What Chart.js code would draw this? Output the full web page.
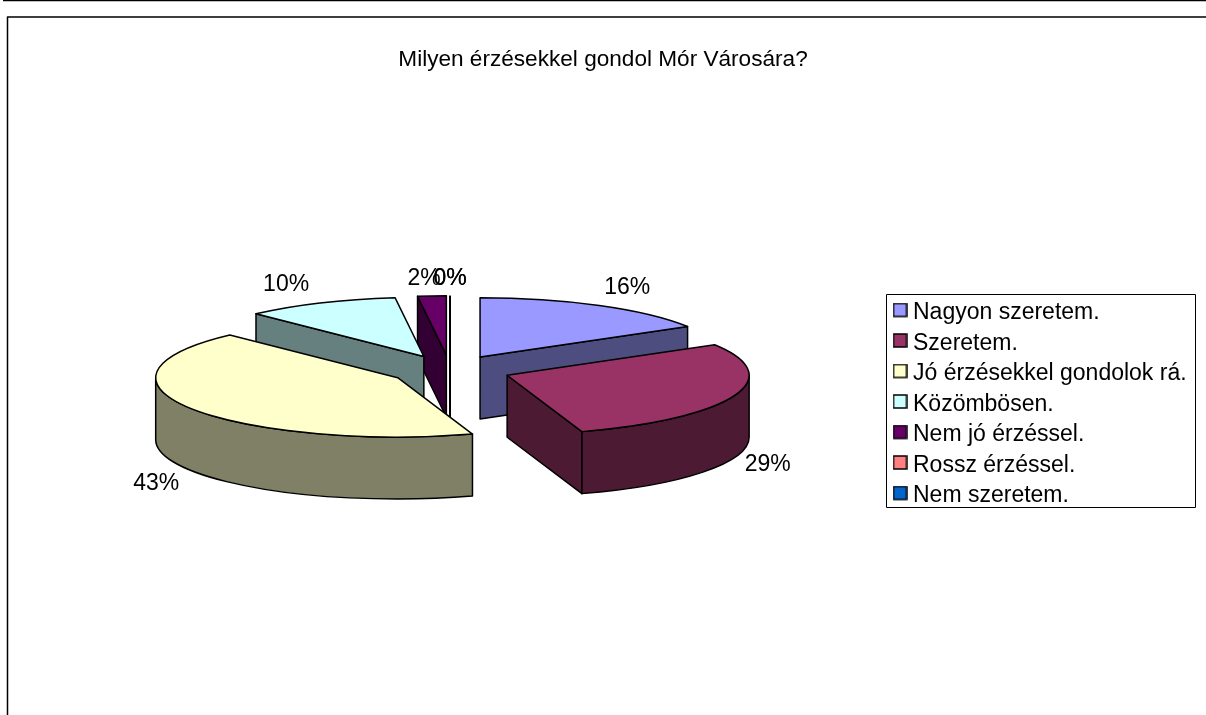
<!DOCTYPE html>
<html>
<head>
<meta charset="utf-8">
<title>Milyen érzésekkel gondol Mór Városára?</title>
<script src="https://cdn.jsdelivr.net/npm/chart.js@4"></script>
<style>
  html, body { margin: 0; padding: 0; background: #fff; overflow: hidden; }
  canvas { display: block; }
</style>
</head>
<body>
<canvas id="grafico" width="1206" height="715"></canvas>
<script>
const titulo = "Milyen érzésekkel gondol Mór Városára?";
const categorias = ["Nagyon szeretem.", "Szeretem.", "Jó érzésekkel gondolok rá.", "Közömbösen.", "Nem jó érzéssel.", "Rossz érzéssel.", "Nem szeretem."];
const valores = [16.4, 28.6, 42.8, 10.3, 1.9, 0, 0];
const colores = ["#9999FF", "#993366", "#FFFFCC", "#CCFFFF", "#660066", "#FF8080", "#0066CC"];
const coloresLado = ["#4D4D80", "#4D1A33", "#808066", "#668080", "#330033", "#804040", "#003366"];

const fuente = "'Liberation Sans', Arial, sans-serif";
const pieX = 450, pieY = 370; // centro de la tarta en pantalla
const aplastar = 0.245;       // inclinacion del 3D
const fondo = 62;             // grosor de la tarta
const separacion = 61;        // cuanto se separan las porciones

// vertice de la porcion en pantalla
function vertice(arc) {
  const mid = (arc.startAngle + arc.endAngle) / 2;
  return { x: pieX + Math.cos(mid) * separacion, y: pieY + Math.sin(mid) * separacion * aplastar };
}

function borde(ctx, ancho) {
  ctx.strokeStyle = "#000";
  ctx.lineWidth = ancho;
  ctx.lineJoin = "round";
  ctx.stroke();
}

// cara plana que se ve al cortar la porcion
function caraCorte(ctx, arc, angulo, color) {
  const v = vertice(arc), r = arc.outerRadius;
  const x = v.x + Math.cos(angulo) * r, y = v.y + Math.sin(angulo) * r * aplastar;
  ctx.beginPath();
  ctx.moveTo(v.x, v.y);
  ctx.lineTo(x, y);
  ctx.lineTo(x, y + fondo);
  ctx.lineTo(v.x, v.y + fondo);
  ctx.closePath();
  ctx.fillStyle = color;
  ctx.fill();
  borde(ctx, 1.5);
}

function dibujarPorcion(chart, arc, i) {
  const ctx = chart.ctx;
  const v = vertice(arc), r = arc.outerRadius, ry = r * aplastar;
  const ini = arc.startAngle, fin = arc.endAngle;

  // porciones de 0%: solo se ve una linea
  if (fin - ini < 0.001) {
    ctx.beginPath();
    ctx.moveTo(v.x, v.y - ry);
    ctx.lineTo(v.x, v.y + fondo);
    borde(ctx, 2);
    return;
  }

  if (-Math.cos(ini) > 0.01) caraCorte(ctx, arc, ini, coloresLado[i]);
  if (Math.cos(fin) > 0.01) caraCorte(ctx, arc, fin, coloresLado[i]);

  // pared exterior, solo la mitad de delante
  const a = Math.max(ini, 0), b = Math.min(fin, Math.PI);
  if (a < b) {
    ctx.beginPath();
    ctx.ellipse(v.x, v.y, r, ry, 0, a, b);
    ctx.ellipse(v.x, v.y + fondo, r, ry, 0, b, a, true);
    ctx.closePath();
    ctx.fillStyle = coloresLado[i];
    ctx.fill();
    borde(ctx, 1.5);
  }

  // la tapa la pinta el propio arco de Chart.js
  ctx.save();
  ctx.translate(v.x - arc.x, v.y);
  ctx.scale(1, aplastar);
  ctx.translate(0, -arc.y);
  arc.draw(ctx, chart.chartArea);
  ctx.restore();

  ctx.beginPath();
  ctx.moveTo(v.x, v.y);
  ctx.ellipse(v.x, v.y, r, ry, 0, ini, fin);
  ctx.closePath();
  borde(ctx, 1.5);
}

function dibujarEtiquetas(chart, arcos) {
  const ctx = chart.ctx;
  ctx.font = "23px " + fuente;
  ctx.fillStyle = "#000";
  ctx.textAlign = "center";
  ctx.textBaseline = "middle";
  arcos.forEach((arc, i) => {
    const mid = (arc.startAngle + arc.endAngle) / 2;
    const v = vertice(arc), r = arc.outerRadius;
    const cos = Math.cos(mid), sin = Math.sin(mid);
    let x = v.x + cos * r, y = v.y + sin * r * aplastar;
    if (sin > 0) y += fondo; // por delante la etiqueta va bajo la pared
    x += Math.sign(cos) * Math.min(34, Math.abs(cos) * 130);
    y += sin * 20;
    // retoques a ojo
    if (Math.abs(cos) < 0.2) y += 3;
    if (cos > 0 && sin < 0) x -= 6;
    if (cos < 0 && sin > 0) y += 3;
    ctx.fillText(Math.round(valores[i]) + "%", x, y);
  });
}

// cuadradito de la leyenda: con el boxWidth normal el texto queda muy lejos
// el canvas es mas alto por abajo para que el cuadrado suba 3px respecto al texto
function cuadrito(color) {
  const c = document.createElement("canvas");
  c.width = 15;
  c.height = 21;
  const g = c.getContext("2d");
  g.fillStyle = color;
  g.fillRect(1, 1, 13, 13);
  g.strokeStyle = "#000";
  g.lineWidth = 1.5;
  g.strokeRect(1, 1, 13, 13);
  return c;
}

const pluginTarta3D = {
  id: "tarta3d",
  afterLayout(chart) {
    // la leyenda va en una caja fija a la derecha
    const l = chart.legend;
    l.left = 891; l.right = 1195; l.top = 294; l.bottom = 715;
    l.width = l.right - l.left;
    l.height = l.bottom - l.top;
  },
  beforeDatasetDraw(chart, args) {
    const arcos = args.meta.data;
    const orden = arcos.map((arc, i) => i).sort((a, b) => vertice(arcos[a]).y - vertice(arcos[b]).y);
    orden.forEach((i) => dibujarPorcion(chart, arcos[i], i));
    dibujarEtiquetas(chart, arcos);
    return false;
  },
  afterDraw(chart) {
    const ctx = chart.ctx;
    ctx.save();
    ctx.strokeStyle = "#000";
    ctx.lineWidth = 1;
    ctx.strokeRect(886.5, 294.5, 309, 213);
    // marco de la hoja
    ctx.lineWidth = 1.5;
    ctx.beginPath();
    ctx.moveTo(3, 0.5);
    ctx.lineTo(1206, 0.5);
    ctx.moveTo(1206, 17);
    ctx.lineTo(7.5, 17);
    ctx.lineTo(7.5, 715);
    ctx.stroke();
    ctx.restore();
  },
};

new Chart(document.getElementById("grafico"), {
  type: "pie",
  plugins: [pluginTarta3D],
  data: {
    labels: categorias,
    datasets: [{
      data: valores,
      backgroundColor: colores,
      borderWidth: 0,
      radius: 242,
    }],
  },
  options: {
    responsive: false,
    animation: false,
    plugins: {
      tooltip: { enabled: false },
      title: {
        display: true,
        text: titulo,
        color: "#000",
        font: { family: fuente, size: 22.6, weight: "normal" },
        padding: { top: 46, bottom: 10 },
      },
      legend: {
        position: "right",
        align: "start",
        onClick: null,
        labels: {
          color: "#000",
          font: { family: fuente, size: 23 },
          usePointStyle: true,
          pointStyleWidth: 3,
          boxHeight: 13,
          padding: 7.5,
          generateLabels(chart) {
            return categorias.map((c, i) => ({
              text: c,
              pointStyle: cuadrito(colores[i]),
              fillStyle: colores[i],
              strokeStyle: "#000",
              lineWidth: 1.5,
              index: i,
            }));
          },
        },
      },
    },
  },
});
</script>
</body>
</html>
